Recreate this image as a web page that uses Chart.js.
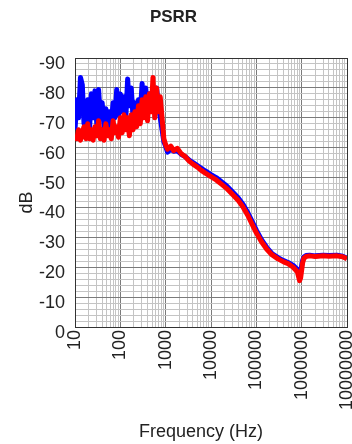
<!DOCTYPE html>
<html lang="en">
<head>
  <meta charset="UTF-8">
  <title>PSRR</title>
  <script src="https://cdn.jsdelivr.net/npm/chart.js"></script>
  <style>
    html, body { margin: 0; padding: 0; background: #fff; }
  </style>
</head>
<body>
  <canvas id="psrrChart" width="352" height="444"></canvas>
  <script>
    // Frequency points (Hz), shared by both traces
    const freqHz = [10, 11, 12, 13.2, 14.5, 15.8, 17.4, 19.1, 20.9, 22.9,
      25.1, 27.5, 30.2, 33.1, 36.3, 39.8, 43.7, 47.9, 52.5, 57.5,
      63.1, 69.2, 75.9, 83.2, 91.2, 100, 110, 120, 132, 145,
      158, 174, 191, 209, 229, 251, 275, 302, 331, 363,
      398, 437, 479, 525, 575, 631, 692, 759, 832, 912,
      1000, 1100, 1300, 1500, 1800, 2200, 2700, 3300, 4000, 5000,
      6000, 7500, 10000, 13000, 17000, 22000, 30000, 40000, 50000, 65000,
      80000, 100000, 130000, 170000, 220000, 300000, 400000, 500000, 650000, 800000,
      900000, 950000, 1000000, 1050000, 1120000, 1250000, 1500000, 2000000, 3000000, 4000000,
      6000000, 8000000, 10000000];

    // Blue trace (dB)
    const psrrBlue = [-66, -76, -70, -83.5, -81, -68, -72, -76, -66, -78,
      -70, -79, -68, -79.5, -70, -75, -67, -73, -66, -72,
      -68, -75, -70, -79.5, -71, -78, -72, -77, -70, -83,
      -74, -80, -70, -75, -70, -76, -71, -81.5, -74, -80,
      -73, -78, -75, -79, -72, -80, -74, -70, -66, -62,
      -60.5, -58.5, -59.5, -58.8, -59, -57.8, -57, -55.8, -55, -54,
      -53.2, -52.2, -51, -50, -48.6, -47.3, -45.2, -43.2, -41.2, -38.2,
      -35.4, -32.4, -29.2, -26.6, -24.6, -23.2, -22.2, -21.6, -20.6, -19.3,
      -18.3, -18.8, -20.5, -22.3, -23.4, -23.9, -24, -23.8, -24, -23.9,
      -24, -23.7, -23];

    // Red trace (dB)
    const psrrRed = [-64, -63, -66, -62.5, -65, -67, -63, -68, -63, -66,
      -62.5, -67, -64, -69, -63, -66, -62.5, -68, -64, -66,
      -63, -69, -65, -67, -63.5, -70, -65, -71, -66, -70,
      -64, -71, -66, -72, -67, -74, -68, -76, -70, -77,
      -69, -78, -72, -83.5, -70, -80, -72, -77, -70, -63,
      -61, -59.5, -60.5, -59, -59.8, -58, -57, -55.5, -54.5, -53.5,
      -52.5, -51.5, -50.3, -49.2, -47.8, -46.4, -44.3, -42.3, -40.3, -37.3,
      -34.5, -31.5, -28.5, -26, -24.2, -22.8, -21.8, -21.2, -20, -18.5,
      -15.5, -16.5, -19, -21.5, -23, -23.6, -23.8, -23.6, -23.8, -23.7,
      -23.8, -23.5, -22.8];

    // Axis labels
    const decadeTicks = [10, 100, 1000, 10000, 100000, 1000000, 10000000];
    const dbTicks = [-90, -80, -70, -60, -50, -40, -30, -20, -10, 0];

    // Grid positions: 1..9 per decade on x, every 2 dB on y
    const xGrid = [];
    decadeTicks.forEach((d, i) => {
      if (i === decadeTicks.length - 1) { xGrid.push(d); return; }
      for (let k = 1; k <= 9; k++) xGrid.push(d * k);
    });
    const yGrid = [];
    for (let v = -90; v <= 0; v += 2) yGrid.push(v);

    const majorGrid = '#7a7a7a';
    const minorGrid = '#c4c4c4';
    const frame = '#333';

    Chart.defaults.font.family = "'Liberation Sans', Arial, sans-serif";
    Chart.defaults.color = '#222';

    const ctx = document.getElementById('psrrChart').getContext('2d');
    new Chart(ctx, {
      type: 'line',
      data: {
        datasets: [
          {
            label: 'Red',
            data: freqHz.map((f, i) => ({ x: f, y: psrrRed[i] })),
            borderColor: '#ff0000',
            borderWidth: 5,
            borderJoinStyle: 'round',
            pointRadius: 0,
            tension: 0
          },
          {
            label: 'Blue',
            data: freqHz.map((f, i) => ({ x: f, y: psrrBlue[i] })),
            borderColor: '#0000ff',
            borderWidth: 5,
            borderJoinStyle: 'round',
            pointRadius: 0,
            tension: 0
          }
        ]
      },
      options: {
        responsive: false,
        animation: false,
        layout: { padding: { left: 0, right: 5, top: 0, bottom: 0 } },
        plugins: {
          legend: { display: false },
          tooltip: { enabled: false },
          title: {
            display: true,
            text: 'PSRR',
            color: '#222',
            font: { size: 17, weight: 'bold' },
            padding: { top: 7, bottom: 30.6 }
          }
        },
        scales: {
          x: {
            type: 'logarithmic',
            min: 10,
            max: 10000000,
            afterBuildTicks: s => { s.ticks = xGrid.map(v => ({ value: v })); },
            afterFit: s => { s.height = 117; s.paddingLeft = 0; s.paddingRight = 0; },
            ticks: {
              autoSkip: false,
              minRotation: 90,
              maxRotation: 90,
              padding: 3,
              font: { size: 18 },
              color: '#222',
              callback: v => decadeTicks.includes(v) ? String(v) : ''
            },
            grid: {
              drawTicks: false,
              lineWidth: 1,
              color: c => {
                const v = c.tick ? c.tick.value : 0;
                if (v === 10000000) return frame;
                return decadeTicks.includes(v) ? majorGrid : minorGrid;
              }
            },
            border: { color: frame, width: 1 },
            title: {
              display: true,
              text: 'Frequency (Hz)    ',
              color: '#222',
              font: { size: 18 },
              padding: { top: 0, bottom: 1 }
            }
          },
          y: {
            type: 'linear',
            min: -90,
            max: 0,
            reverse: true,
            afterBuildTicks: s => { s.ticks = yGrid.map(v => ({ value: v })); },
            afterFit: s => { s.width = 75; },
            ticks: {
              autoSkip: false,
              padding: 10,
              labelOffset: 6,
              font: { size: 18 },
              color: '#222',
              callback: v => dbTicks.includes(v) ? String(v) : ''
            },
            grid: {
              drawTicks: false,
              lineWidth: 1,
              color: c => {
                const v = c.tick ? c.tick.value : 0;
                if (v === -90) return frame;
                return v % 10 === 0 ? majorGrid : minorGrid;
              }
            },
            border: { color: frame, width: 1 },
            title: {
              display: true,
              text: 'dB    ',
              color: '#222',
              font: { size: 18 },
              padding: { top: 16, bottom: 0 }
            }
          }
        }
      }
    });
  </script>
</body>
</html>
